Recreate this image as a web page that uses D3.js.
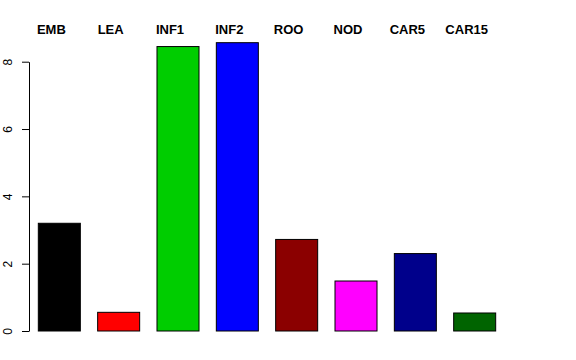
<!DOCTYPE html>
<html>
<head>
<meta charset="utf-8">
<script src="https://cdn.jsdelivr.net/npm/d3@7"></script>
<style>
  body { margin: 0; background: #fff; }
  svg { display: block; font-family: "Liberation Sans", Arial, Helvetica, sans-serif; }
</style>
</head>
<body>
<div id="chart"></div>
<script>
// chart values
const categories = ["EMB", "LEA", "INF1", "INF2", "ROO", "NOD", "CAR5", "CAR15"];
const values = [3.20, 0.555, 8.45, 8.565, 2.72, 1.485, 2.30, 0.535];
const barColors = ["#000000", "#ff0000", "#00cd00", "#0000ff", "#8b0000", "#ff00ff", "#00008b", "#006400"];
const yTicks = [0, 2, 4, 6, 8];

const width = 576, height = 360;

const svg = d3.select("#chart")
  .append("svg")
    .attr("width", width)
    .attr("height", height);

// x positions of the bars
const x = d3.scaleBand()
    .domain(categories)
    .range([29, 505])
    .paddingInner(0.292)
    .paddingOuter(0.157);

// y scale, 0..8 spans the axis line
const y = d3.scaleLinear()
    .domain([0, 8])
    .range([331, 61.7]);

// bars
svg.append("g")
  .selectAll("rect")
  .data(categories)
  .join("rect")
    .attr("x", d => x(d))
    .attr("y", (d, i) => y(values[i]))
    .attr("width", x.bandwidth())
    .attr("height", (d, i) => y(0) - y(values[i]))
    .attr("fill", (d, i) => barColors[i])
    .attr("stroke", "#000")
    .attr("stroke-width", 1);

// y axis
const yAxis = svg.append("g")
    .attr("transform", "translate(29,0)")
    .call(d3.axisLeft(y).tickValues(yTicks).tickSize(7).tickSizeOuter(0).tickFormat(d3.format("d")));
yAxis.select(".domain").attr("stroke", "#000");
yAxis.selectAll(".tick line").attr("stroke", "#000");
yAxis.selectAll(".tick text")
    .attr("x", null)
    .attr("dy", null)
    .attr("text-anchor", "middle")
    .attr("transform", "translate(-17,0) rotate(-90)")
    .attr("font-size", 12)
    .attr("font-family", "Liberation Sans, Arial, sans-serif")
    .attr("fill", "#000");

// category labels across the top
svg.append("g")
  .selectAll("text")
  .data(categories)
  .join("text")
    .attr("x", d => x(d) + x.bandwidth() / 2 - 8)
    .attr("y", 34.3)
    .attr("text-anchor", "middle")
    .attr("font-size", 13)
    .attr("font-weight", "bold")
    .text(d => d);
</script>
</body>
</html>
